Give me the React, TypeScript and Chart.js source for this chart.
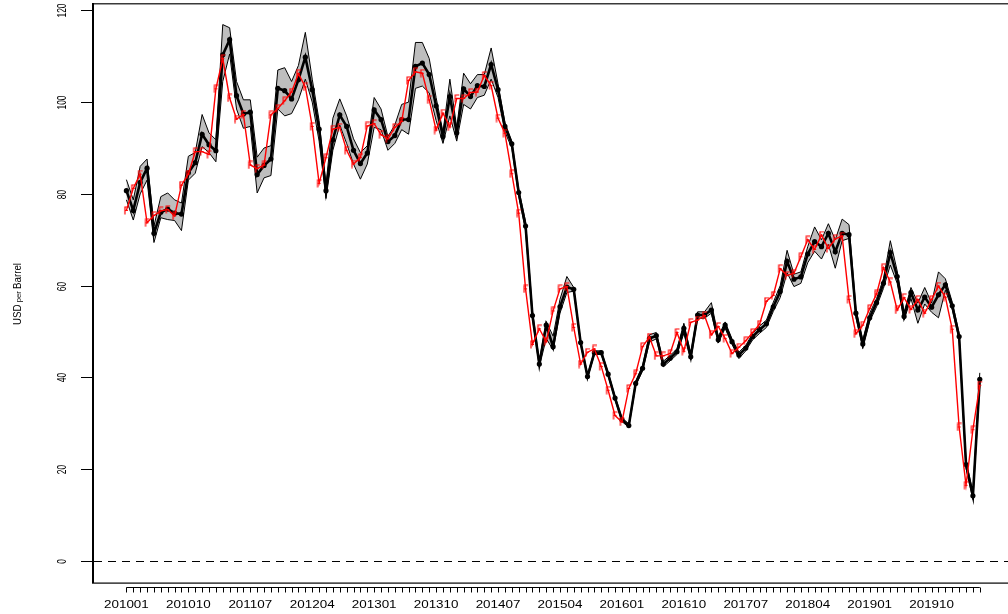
import React, { useEffect, useRef } from 'react';
import { Chart, registerables } from 'chart.js';

Chart.register(...registerables);

const FONT = '"Liberation Sans", Arial, Helvetica, sans-serif';

// Monthly categories 201001 .. 202005 (125 points)
const N_MONTHS = 125;
const months: string[] = Array.from({ length: N_MONTHS }, (_, i) => {
  const y = 2010 + Math.floor(i / 12);
  const m = (i % 12) + 1;
  return `${y}${m < 10 ? '0' + m : m}`;
});

const tickLabels = [
  '201001', '201010', '201107', '201204', '201301', '201310', '201407',
  '201504', '201601', '201610', '201707', '201804', '201901', '201910',
];
const yTicks = [0, 20, 40, 60, 80, 100, 120];

// Black line (point forecast)
const forecast = [
  80.7, 76.4, 82.5, 85.6, 71.4, 76.0, 76.7, 75.8, 75.6, 84.6,
  86.8, 93.0, 90.7, 89.4, 110.3, 113.6, 101.4, 97.4, 97.8, 84.2,
  86.2, 87.6, 103.0, 102.5, 100.7, 104.9, 109.8, 102.7, 94.1, 80.7,
  91.8, 97.2, 94.7, 89.5, 86.6, 88.9, 98.3, 96.2, 91.4, 92.7,
  96.2, 96.2, 107.8, 108.5, 106.0, 99.2, 92.5, 101.2, 93.3, 102.9,
  101.2, 103.6, 103.4, 108.2, 102.7, 94.7, 90.9, 80.3, 73.0, 53.5,
  42.9, 51.4, 46.7, 55.4, 59.7, 59.2, 47.6, 40.2, 45.4, 45.4,
  40.7, 35.5, 30.8, 29.5, 38.7, 42.0, 48.5, 49.1, 42.9, 44.2,
  45.6, 50.7, 44.5, 53.6, 53.6, 54.7, 48.2, 51.4, 47.8, 44.9,
  46.4, 48.9, 50.4, 51.7, 55.4, 58.7, 65.3, 61.4, 61.9, 66.9,
  69.6, 68.5, 71.4, 67.4, 71.4, 71.1, 54.0, 47.3, 53.0, 56.3,
  60.5, 67.2, 62.0, 53.3, 58.5, 54.7, 57.5, 55.3, 58.0, 60.2,
  55.6, 48.9, 21.0, 14.2, 39.6,
];

// Grey band: upper bound
const upper = [
  83.1, 78.7, 86.0, 87.6, 73.0, 79.4, 80.2, 78.7, 78.0, 88.2,
  89.0, 97.3, 93.3, 91.8, 116.9, 116.2, 104.5, 100.5, 100.5, 88.0,
  90.0, 90.5, 107.0, 107.5, 104.5, 108.0, 115.2, 105.0, 96.0, 82.0,
  96.5, 100.7, 97.0, 92.0, 89.0, 90.5, 101.0, 98.5, 92.5, 95.0,
  99.5, 100.0, 113.0, 113.0, 109.5, 101.0, 93.5, 105.0, 94.5, 106.3,
  104.0, 106.0, 106.0, 111.8, 104.0, 95.5, 91.5, 81.0, 74.0, 54.5,
  43.5, 52.2, 49.0, 57.0, 62.0, 59.6, 48.0, 40.6, 45.8, 45.8,
  41.1, 35.9, 31.2, 29.9, 39.2, 42.6, 49.3, 49.8, 43.5, 44.8,
  46.2, 51.8, 45.2, 54.3, 54.3, 56.3, 48.9, 52.1, 48.4, 45.5,
  47.0, 49.6, 51.2, 52.5, 56.4, 60.0, 67.7, 62.5, 63.0, 68.5,
  72.8, 70.0, 73.5, 70.0, 74.5, 73.3, 55.0, 48.2, 54.0, 57.2,
  61.5, 69.8, 63.2, 54.2, 59.6, 56.2, 59.6, 56.2, 63.0, 61.5,
  56.4, 49.6, 21.8, 15.0, 41.0,
];

// Grey band: lower bound
const lower = [
  78.7, 74.3, 80.0, 83.0, 69.4, 74.8, 74.4, 74.2, 72.0, 83.0,
  84.5, 90.3, 89.0, 87.0, 104.5, 110.5, 98.5, 94.3, 94.7, 80.2,
  83.5, 84.0, 98.5, 97.0, 97.5, 100.5, 105.0, 100.0, 91.5, 79.0,
  89.5, 95.0, 91.0, 86.5, 83.2, 86.5, 94.5, 94.0, 89.5, 91.0,
  94.0, 93.0, 103.0, 103.5, 102.0, 96.0, 91.0, 97.0, 91.5, 99.5,
  98.5, 101.0, 101.5, 105.0, 101.0, 93.5, 90.0, 79.5, 72.0, 52.8,
  42.3, 48.5, 46.0, 54.0, 58.5, 58.8, 47.2, 39.8, 45.0, 45.0,
  40.3, 35.1, 30.4, 29.1, 38.2, 41.4, 47.7, 48.4, 42.3, 43.6,
  45.0, 49.6, 43.8, 52.9, 52.9, 54.0, 47.5, 50.7, 47.2, 44.1,
  45.8, 48.2, 49.6, 50.9, 54.4, 57.4, 62.8, 59.8, 60.5, 65.0,
  67.5, 65.8, 69.0, 63.8, 69.8, 70.3, 53.0, 46.3, 52.2, 55.4,
  59.4, 64.5, 60.5, 52.5, 57.2, 51.8, 56.0, 54.2, 53.0, 59.0,
  54.8, 48.2, 20.2, 13.4, 38.4,
];

// Red line (actual price)
const actual = [
  76.4, 81.2, 84.3, 73.7, 75.3, 76.3, 76.6, 75.2, 81.9, 84.3, 89.2,
  89.2, 88.6, 102.9, 109.5, 100.9, 96.3, 97.3, 86.3, 85.5, 86.3, 97.2, 98.6,
  100.3, 102.2, 106.2, 103.3, 94.7, 82.3, 87.9, 94.1, 94.5, 89.5, 86.5, 87.9,
  94.8, 95.3, 92.9, 92.0, 94.5, 95.8, 104.7, 106.6, 106.3, 100.5, 93.9, 97.6,
  94.6, 100.8, 100.8, 102.1, 102.2, 105.8, 103.6, 96.5, 93.2, 84.4, 75.8, 59.3,
  47.2, 50.6, 47.8, 54.5, 59.3, 59.8, 50.9, 42.9, 45.5, 46.2, 42.4, 37.2,
  31.7, 30.3, 37.6, 40.8, 46.7, 48.8, 44.7, 44.7, 45.2, 49.8, 45.7, 52.0,
  52.5, 53.5, 49.3, 51.1, 48.5, 45.2, 46.6, 48.0, 49.8, 51.6, 56.6, 57.9,
  63.7, 62.2, 62.7, 66.3, 70.0, 67.9, 71.0, 68.1, 70.2, 70.8, 57.0, 49.5,
  51.4, 55.0, 58.2, 63.9, 60.8, 54.7, 57.4, 54.8, 57.0, 54.0, 57.0, 59.9,
  57.5, 50.5, 29.2, 16.5, 28.6, 38.3,
];

function makeFMarker(): HTMLCanvasElement {
  const c = document.createElement('canvas');
  c.width = 7;
  c.height = 9;
  const g = c.getContext('2d')!;
  g.strokeStyle = '#ff0000';
  g.lineWidth = 1.2;
  g.beginPath();
  g.moveTo(2, 8.5);
  g.lineTo(2, 1);
  g.lineTo(6, 1);
  g.moveTo(2, 4.5);
  g.lineTo(5, 4.5);
  g.stroke();
  return c;
}

const rAxesPlugin = {
  id: 'rAxes',
  beforeDatasetsDraw(chart: any) {
    const { ctx, chartArea: a, scales } = chart;
    const y0 = Math.round(scales.y.getPixelForValue(0)) + 0.5;
    ctx.save();
    ctx.strokeStyle = '#000';
    ctx.lineWidth = 1;
    ctx.setLineDash([8, 6]);
    ctx.beginPath();
    ctx.moveTo(a.left + 2, y0);
    ctx.lineTo(a.right, y0);
    ctx.stroke();
    ctx.restore();
  },
  afterDatasetsDraw(chart: any) {
    const { ctx, chartArea: a, scales } = chart;
    const xs = scales.x;
    const ys = scales.y;
    ctx.save();
    // frame: top (grey-ish), left (thick), bottom
    ctx.fillStyle = '#3a3a3a';
    ctx.fillRect(a.left, a.top, a.right - a.left, 1.5);
    ctx.fillStyle = '#000';
    ctx.fillRect(a.left, a.top, 2, a.bottom - a.top);
    ctx.fillRect(a.left, a.bottom - 0.5, a.right - a.left, 1.2);

    // y ticks + labels
    ctx.strokeStyle = '#000';
    ctx.lineWidth = 1;
    yTicks.forEach((v) => {
      const py = Math.round(ys.getPixelForValue(v)) + 0.5;
      ctx.beginPath();
      ctx.moveTo(a.left - 11, py);
      ctx.lineTo(a.left, py);
      ctx.stroke();
      ctx.save();
      ctx.translate(62, py);
      ctx.rotate(-Math.PI / 2);
      ctx.scale(0.65, 1);
      ctx.font = `13px ${FONT}`;
      ctx.fillStyle = '#000';
      ctx.textAlign = 'center';
      ctx.textBaseline = 'middle';
      ctx.fillText(String(v), 0, 0);
      ctx.restore();
    });

    // y title
    ctx.save();
    ctx.translate(17.5, 294);
    ctx.rotate(-Math.PI / 2);
    const parts: [string, number][] = [['USD', 10], [' per ', 8], ['Barrel', 10]];
    const widths = parts.map(([t, s]) => {
      ctx.font = `${s}px ${FONT}`;
      return ctx.measureText(t).width;
    });
    const total = widths.reduce((p, q) => p + q, 0);
    ctx.scale(62 / total, 1);
    let xx = -total / 2;
    ctx.fillStyle = '#000';
    ctx.textAlign = 'left';
    ctx.textBaseline = 'alphabetic';
    parts.forEach(([t, s], i) => {
      ctx.font = `${s}px ${FONT}`;
      ctx.fillText(t, xx, 3.5);
      xx += widths[i];
    });
    ctx.restore();

    // x axis line with monthly ticks
    const axY = a.bottom + 4.5;
    const x0 = xs.getPixelForValue(0);
    const x1 = xs.getPixelForValue(months.length - 1);
    ctx.beginPath();
    ctx.moveTo(x0, axY);
    ctx.lineTo(x1, axY);
    ctx.stroke();
    months.forEach((_, i) => {
      const px = Math.round(xs.getPixelForValue(i)) + 0.5;
      ctx.beginPath();
      ctx.moveTo(px, axY);
      ctx.lineTo(px, axY + 5);
      ctx.stroke();
    });

    // x labels
    tickLabels.forEach((lab) => {
      const idx = months.indexOf(lab);
      if (idx < 0) return;
      const px = xs.getPixelForValue(idx);
      ctx.save();
      ctx.translate(px, 604.5);
      ctx.scale(1.22, 1);
      ctx.font = `11px ${FONT}`;
      ctx.fillStyle = '#000';
      ctx.textAlign = 'center';
      ctx.textBaseline = 'middle';
      ctx.fillText(lab, 0, 0);
      ctx.restore();
    });
    ctx.restore();
  },
};

export default function App() {
  const ref = useRef<HTMLCanvasElement>(null);

  useEffect(() => {
    const canvas = ref.current;
    if (!canvas) return;
    const fMark = makeFMarker();
    const pts = (arr: number[]) => arr.map((y, i) => ({ x: i, y }));

    const chart = new Chart(canvas, {
      type: 'line',
      data: {
        datasets: [
          {
            label: 'Actual',
            data: pts(actual),
            borderColor: '#ff0000',
            borderWidth: 1.4,
            pointStyle: fMark as any,
            pointRadius: 4,
            fill: false,
            order: 0,
          },
          {
            label: 'Forecast',
            data: pts(forecast),
            borderColor: '#000000',
            borderWidth: 2.6,
            pointRadius: 2.6,
            pointBackgroundColor: '#000000',
            pointBorderWidth: 0,
            fill: false,
            order: 1,
          },
          {
            label: 'Upper',
            data: pts(upper),
            borderColor: '#000000',
            borderWidth: 1,
            pointRadius: 0,
            backgroundColor: '#bebebe',
            fill: '+1',
            order: 2,
          },
          {
            label: 'Lower',
            data: pts(lower),
            borderColor: '#000000',
            borderWidth: 1,
            pointRadius: 0,
            fill: false,
            order: 3,
          },
        ],
      },
      options: {
        responsive: false,
        animation: false,
        devicePixelRatio: 1,
        events: [],
        layout: { autoPadding: false, padding: { left: 92, top: 3, right: 0, bottom: 31 } } as any,
        scales: {
          x: { type: 'linear', min: -5, max: 128.1, display: false },
          y: { type: 'linear', min: -4.8, max: 121.6, display: false },
        },
        plugins: {
          legend: { display: false },
          tooltip: { enabled: false },
          filler: { drawTime: 'beforeDatasetsDraw', propagate: false } as any,
        },
      },
      plugins: [rAxesPlugin as any],
    });

    return () => chart.destroy();
  }, []);

  return (
    <div style={{ position: 'absolute', left: 0, top: 0, width: 1008, height: 614, background: '#fff' }}>
      <canvas ref={ref} width={1008} height={614} style={{ display: 'block' }} />
    </div>
  );
}
